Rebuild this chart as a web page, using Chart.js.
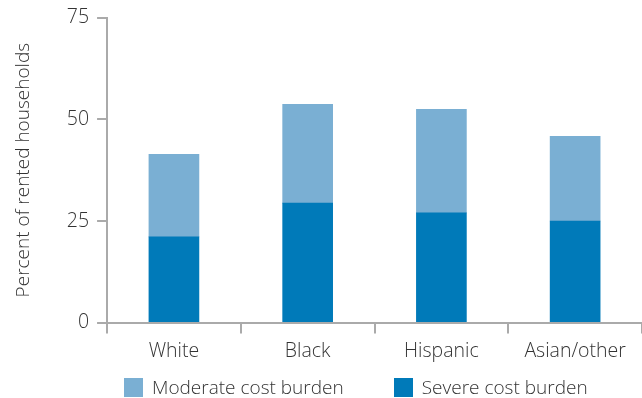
<!DOCTYPE html>
<html>
<head>
<meta charset="utf-8">
<script src="https://cdn.jsdelivr.net/npm/chart.js@4"></script>
<style>
  html, body { margin: 0; padding: 0; background: #fff; overflow: hidden; }
  #wrap { position: relative; width: 642px; height: 398px; }
  #legend { position: absolute; left: 124px; top: 377px; display: flex; align-items: center;
    font-family: "Open Sans", sans-serif; font-weight: 300; font-size: 19px; color: #333; }
  #legend .item { display: flex; align-items: center; margin-right: 50px; }
  #legend .box { width: 19px; height: 19px; margin-right: 9px; }
  #legend span { line-height: 21px; }
</style>
</head>
<body>
<div id="wrap">
  <canvas id="chart" width="642" height="398"></canvas>
  <div id="legend"></div>
</div>
<script>
const categories = ["White", "Black", "Hispanic", "Asian/other"];
const severeBurden = [21.1, 29.4, 27.0, 25.0];
const moderateBurden = [20.3, 24.3, 25.5, 20.8];
const yTicks = [0, 25, 50, 75];

const lightBlue = "#7aafd3";
const darkBlue = "#007ab9";
const axisGray = "#aaaaaa";
const textColor = "#333333";

Chart.defaults.font.family = "'Open Sans', sans-serif";
Chart.defaults.font.weight = 300;
Chart.defaults.color = textColor;

const htmlLegend = {
  id: "htmlLegend",
  afterUpdate(chart) {
    const box = document.getElementById("legend");
    box.innerHTML = "";
    // moderate first, as in the original
    [...chart.data.datasets].reverse().forEach(function (ds) {
      const item = document.createElement("div");
      item.className = "item";
      const sw = document.createElement("div");
      sw.className = "box";
      sw.style.background = ds.backgroundColor;
      const label = document.createElement("span");
      label.textContent = ds.label;
      item.appendChild(sw);
      item.appendChild(label);
      box.appendChild(item);
    });
  },
};

const ctx = document.getElementById("chart").getContext("2d");
new Chart(ctx, {
  type: "bar",
  data: {
    labels: categories,
    datasets: [
      { label: "Severe cost burden", data: severeBurden, backgroundColor: darkBlue, barThickness: 50 },
      { label: "Moderate cost burden", data: moderateBurden, backgroundColor: lightBlue, barThickness: 50 },
    ],
  },
  options: {
    responsive: false,
    animation: false,
    layout: { padding: { top: 0, right: 0, bottom: 29, left: 12 } },
    plugins: {
      legend: { display: false },
      tooltip: { enabled: false },
    },
    scales: {
      x: {
        stacked: true,
        grid: { offset: true, drawOnChartArea: false, tickLength: 11, color: axisGray, lineWidth: 2 },
        border: { color: axisGray, width: 2 },
        ticks: { font: { size: 19.5 }, padding: 6, color: textColor },
      },
      y: {
        stacked: true,
        min: 0,
        max: 75,
        afterBuildTicks: function (axis) {
          axis.ticks = yTicks.map(function (v) { return { value: v }; });
        },
        grid: { drawOnChartArea: false, tickLength: 10, color: axisGray, lineWidth: 2 },
        border: { color: axisGray, width: 2 },
        ticks: { font: { size: 19.5, lineHeight: 1 }, padding: 8, color: textColor },
        title: {
          display: true,
          text: "Percent of rented households",
          font: { size: 19 },
          color: textColor,
          padding: { top: 0, bottom: 24 },
        },
      },
    },
  },
  plugins: [htmlLegend],
});
</script>
</body>
</html>
